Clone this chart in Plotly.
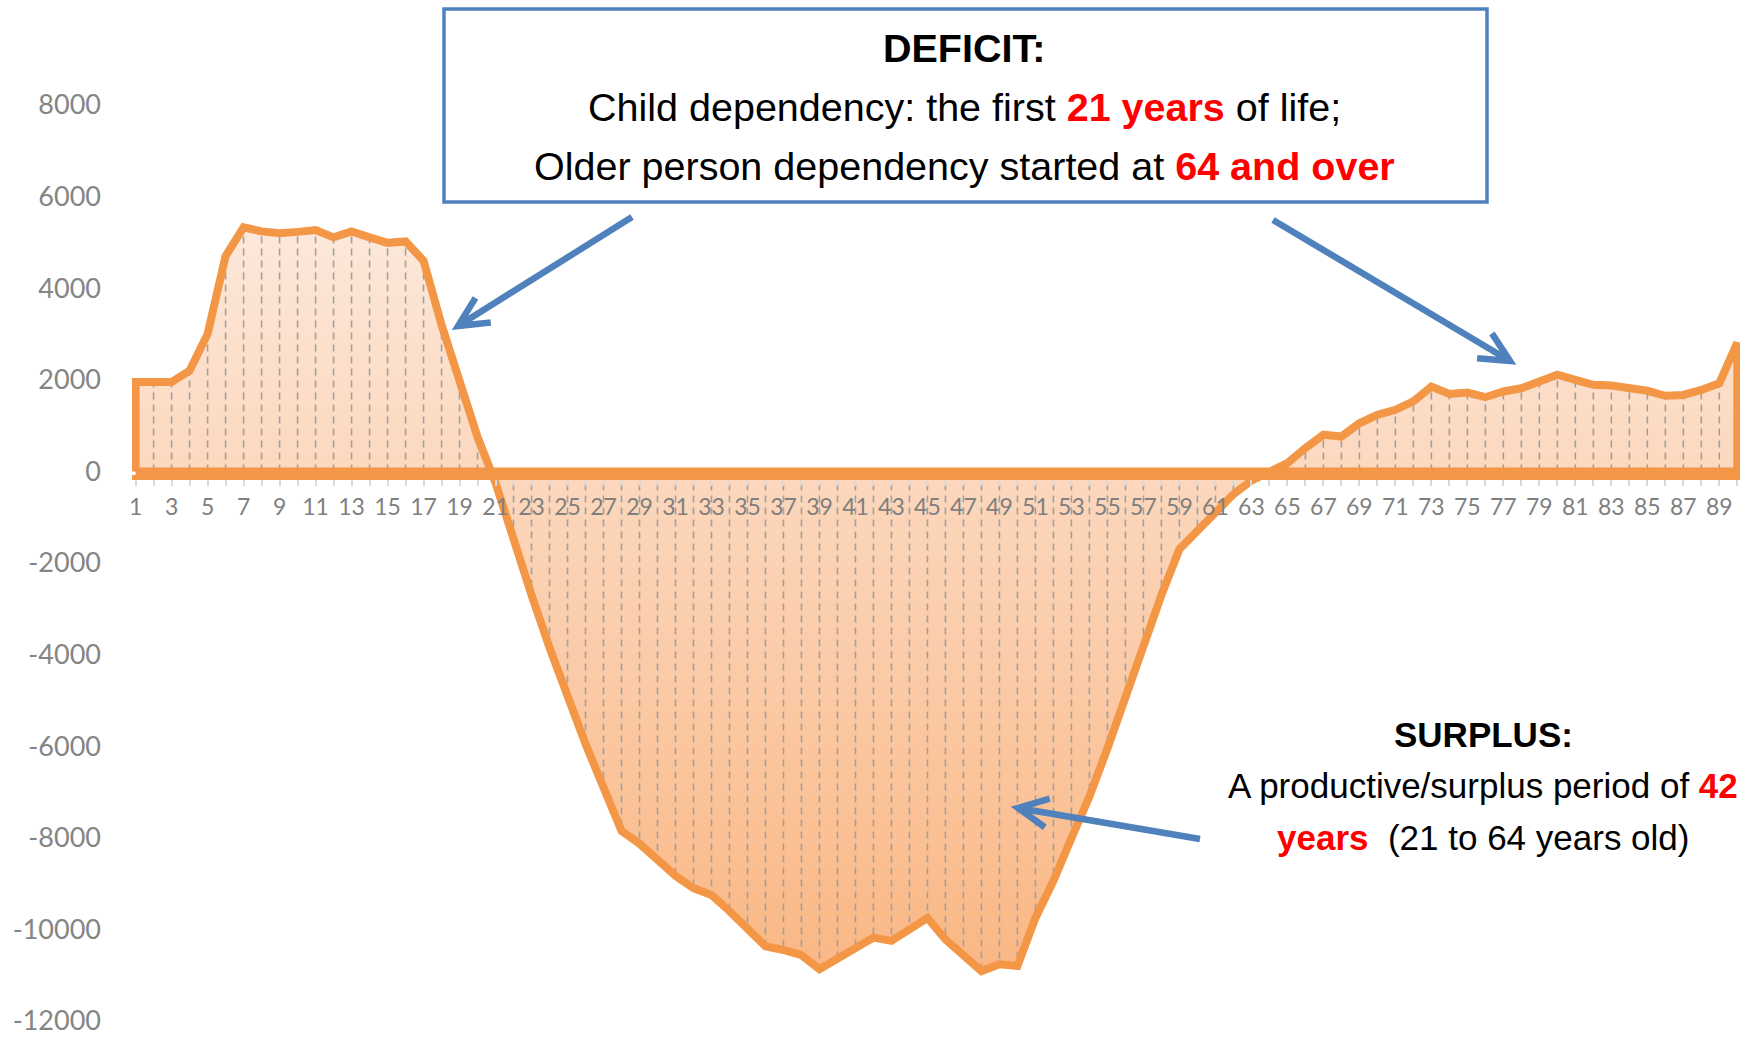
import math
import plotly.graph_objects as go

# --- Data ---

ages = list(range(1, 91))
deficit = [
    1950, 1950, 1950, 2200, 3000, 4700, 5330, 5240, 5200, 5230,
    5270, 5110, 5240, 5110, 4990, 5020, 4600, 3200, 2000, 750,
    -250, -1500, -2700, -3850, -4950, -5950, -6900, -7850, -8130, -8480,
    -8830, -9100, -9250, -9600, -9980, -10370, -10450, -10560, -10870, -10640,
    -10370, -10180, -10250, -10020, -9750, -10220, -10560, -10910, -10760, -10800,
    -9750, -8940, -8010, -7100, -6050, -4900, -3750, -2700, -1700, -1300,
    -880, -500, -200, -20, 180, 510, 800, 760, 1050, 1235,
    1345, 1530, 1850, 1690, 1720, 1620, 1745, 1815, 1950, 2110,
    2000, 1890, 1875, 1815, 1760, 1650, 1670, 1780, 1925, 2810,
]
x_ticktext = [str(a) if a % 2 else "" for a in ages]
y_ticks = [-12000, -10000, -8000, -6000, -4000, -2000, 0, 2000, 4000, 6000, 8000]
y_ticktext = [str(v) for v in y_ticks]

# --- Layout geometry ---

W, H = 1754, 1038
L, R, T, B = 132, 14, 105, 17
PW, PH = W - L - R, H - T - B
Y_RANGE = [-12000, 8000]

ORANGE = "#F39646"
BLUE = "#4F81BD"
RED = "#FF0000"
FONT = "Liberation Sans, Arial, sans-serif"


def px(x):
    return (x - L) / PW


def py(y):
    return 1 - (y - T) / PH


def arrow_path(tail, tip, arm=33, spread=26):
    """Shaft plus open chevron head, in paper coords, from pixel points."""
    ang = math.atan2(tail[1] - tip[1], tail[0] - tip[0])
    pts = []
    for s in (spread, -spread):
        a = ang + math.radians(s)
        pts.append((tip[0] + arm * math.cos(a), tip[1] + arm * math.sin(a)))
    p = f"M{px(tail[0])},{py(tail[1])} L{px(tip[0])},{py(tip[1])} "
    p += f"M{px(pts[0][0])},{py(pts[0][1])} L{px(tip[0])},{py(tip[1])} L{px(pts[1][0])},{py(pts[1][1])}"
    return p


# closed outline: baseline -> curve -> baseline
poly_x = [ages[0]] + ages + [ages[-1], ages[0]]
poly_y = [0] + deficit + [0, 0]

drop_x, drop_y = [], []
for a, v in zip(ages, deficit):
    drop_x += [a, a, None]
    drop_y += [0, v, None]

fig = go.Figure()
fig.add_trace(go.Scatter(
    x=poly_x, y=poly_y, mode="lines", fill="toself",
    fillgradient=dict(type="vertical", colorscale=[[0, "#FAB784"], [1, "#FDE8DA"]]),
    line=dict(width=0), hoverinfo="skip", showlegend=False,
))
fig.add_trace(go.Scatter(
    x=drop_x, y=drop_y, mode="lines",
    line=dict(color="#A0A0A0", width=1.6, dash="7px,5px"),
    hoverinfo="skip", showlegend=False,
))
fig.add_trace(go.Scatter(
    x=poly_x, y=poly_y, mode="lines",
    line=dict(color=ORANGE, width=8),
    hoverinfo="skip", showlegend=False,
))

zero_frac = (0 - Y_RANGE[0]) / (Y_RANGE[1] - Y_RANGE[0])

fig.update_xaxes(
    range=[0.8, 90.15], anchor="free", position=zero_frac - 6 / PH,
    tickvals=ages, ticktext=x_ticktext, ticks="outside", ticklen=6,
    tickwidth=2, tickcolor="#D9D9D9", showline=True, linecolor=ORANGE,
    linewidth=5, showgrid=False, zeroline=False, ticklabelstandoff=1,
    automargin=False,
    tickfont=dict(family="Lato", size=23, color="#7F7F7F"),
)
fig.update_yaxes(
    range=Y_RANGE, tickvals=y_ticks, ticktext=y_ticktext, showgrid=False,
    zeroline=False, showline=False, ticks="", ticklabelstandoff=30,
    ticklabeloverflow="allow", automargin=False,
    tickfont=dict(family="Lato", size=27, color="#858585"),
)

shapes = [
    dict(type="rect", xref="paper", yref="paper", x0=px(444), x1=px(1487),
         y0=py(202), y1=py(9), line=dict(color=BLUE, width=3.5), fillcolor="white"),
]
for tail, tip in [((632, 217), (458, 326)), ((1273, 220), (1510, 361)), ((1200, 839), (1018, 808))]:
    shapes.append(dict(type="path", xref="paper", yref="paper", path=arrow_path(tail, tip),
                       line=dict(color=BLUE, width=6.5)))

red = lambda s: f"<b><span style='color:{RED}'>{s}</span></b>"
texts = [
    (964, 48, "<b>DEFICIT:</b>", 39.5),
    (964, 107, f"Child dependency: the first {red('21 years')} of life;", 39.5),
    (964, 166, f"Older person dependency started at {red('64 and over')}", 39.5),
    (1483, 734, "<b>SURPLUS:</b>", 35),
    (1483, 785, f"A productive/surplus period of {red('42')}", 35),
    (1483, 837, f"{red('years')} \u00a0(21 to 64 years old)", 35),
]
annotations = [
    dict(x=px(x), y=py(y), xref="paper", yref="paper", text=t, showarrow=False,
         xanchor="center", yanchor="middle", font=dict(family=FONT, size=s, color="black"))
    for x, y, t, s in texts
]

fig.update_layout(
    width=W, height=H, autosize=False,
    margin=dict(l=L, r=R, t=T, b=B),
    paper_bgcolor="white", plot_bgcolor="white",
    shapes=shapes, annotations=annotations, showlegend=False,
)

fig.write_html(
    "out.html",
    config={"displayModeBar": False},
    post_script="document.body.style.margin = '0px';",
)
